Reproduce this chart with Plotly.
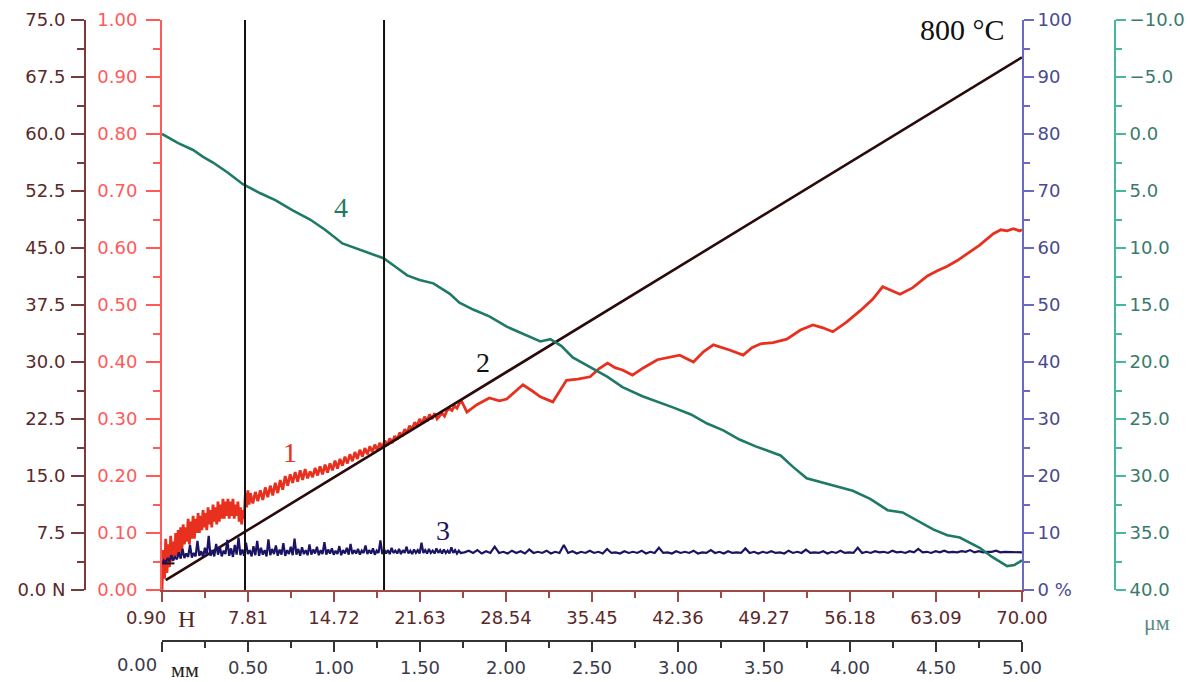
import numpy as np
import plotly.graph_objects as go

W, H = 1190, 682

# ---------------- data ----------------
load_ticks = [0.90, 7.81, 14.72, 21.63, 28.54, 35.45, 42.36, 49.27, 56.18, 63.09, 70.00]
dist_ticks = [0.0, 0.5, 1.0, 1.5, 2.0, 2.5, 3.0, 3.5, 4.0, 4.5, 5.0]
force_ticks = [0.0, 7.5, 15.0, 22.5, 30.0, 37.5, 45.0, 52.5, 60.0, 67.5, 75.0]
mu_ticks = [0.0, 0.1, 0.2, 0.3, 0.4, 0.5, 0.6, 0.7, 0.8, 0.9, 1.0]
ae_ticks = [0, 10, 20, 30, 40, 50, 60, 70, 80, 90, 100]
depth_ticks = [-10, -5, 0, 5, 10, 15, 20, 25, 30, 35, 40]

# curve 1 : friction coefficient (red); noisy start read every 0.1 N (0.9 .. 8.0)
friction_early = [0.00, 0.07, 0.02, 0.09, 0.03, 0.08, 0.04, 0.095, 0.05, 0.085,
                  0.055, 0.10, 0.06, 0.105, 0.065, 0.11, 0.07, 0.115, 0.08, 0.11,
                  0.085, 0.125, 0.08, 0.12, 0.09, 0.13, 0.09, 0.125, 0.10, 0.135,
                  0.10, 0.13, 0.105, 0.14, 0.11, 0.135, 0.105, 0.145, 0.115, 0.14,
                  0.11, 0.15, 0.12, 0.145, 0.115, 0.155, 0.12, 0.15, 0.125, 0.16,
                  0.125, 0.155, 0.13, 0.16, 0.125, 0.155, 0.13, 0.16, 0.125, 0.15,
                  0.13, 0.155, 0.12, 0.145, 0.115, 0.14, 0.125, 0.17, 0.145, 0.175,
                  0.15, 0.17]
# read every 0.2 N (8.2 .. 25.0)
friction_mid = [0.152, 0.172, 0.156, 0.175, 0.158, 0.18, 0.163, 0.183, 0.166, 0.188,
                0.17, 0.193, 0.176, 0.2, 0.183, 0.203, 0.188, 0.207, 0.19, 0.21,
                0.193, 0.212, 0.196, 0.208, 0.198, 0.214, 0.201, 0.217, 0.203, 0.22,
                0.206, 0.222, 0.21, 0.227, 0.213, 0.23, 0.218, 0.234, 0.222, 0.238,
                0.226, 0.242, 0.23, 0.246, 0.234, 0.249, 0.238, 0.252, 0.242, 0.255,
                0.245, 0.258, 0.249, 0.262, 0.254, 0.266, 0.258, 0.27, 0.264, 0.276,
                0.27, 0.282, 0.276, 0.288, 0.282, 0.294, 0.288, 0.3, 0.292, 0.304,
                0.296, 0.308, 0.3, 0.31, 0.3, 0.306, 0.31, 0.305, 0.315, 0.318,
                0.315, 0.323, 0.319, 0.328, 0.33]
friction_late_load = [25.4, 26.2, 27.2, 28.0, 28.6, 29.3, 29.9, 30.6, 31.3, 32.3, 32.9, 33.4,
                      34.3, 35.3, 36.0, 36.7, 37.3, 37.9, 38.7, 39.6, 40.7, 41.6, 42.5, 43.6,
                      44.4, 45.2, 46.0, 46.5, 47.6, 48.3, 49.0, 50.0, 51.1, 52.2, 53.2, 54.0,
                      54.8, 55.9, 57.0, 58.0, 58.8, 59.5, 60.2, 61.2, 62.4, 63.2, 64.0, 64.8,
                      65.6, 66.6, 67.7, 68.3, 68.8, 69.3, 69.8, 70.0]
friction_late = [0.312, 0.325, 0.337, 0.332, 0.335, 0.348, 0.36, 0.35, 0.339, 0.33, 0.35, 0.368,
                 0.37, 0.374, 0.388, 0.398, 0.39, 0.386, 0.377, 0.39, 0.404, 0.408, 0.412, 0.40,
                 0.418, 0.43, 0.425, 0.421, 0.412, 0.425, 0.432, 0.434, 0.44, 0.456, 0.465, 0.46,
                 0.453, 0.47, 0.49, 0.51, 0.532, 0.525, 0.519, 0.53, 0.551, 0.56, 0.568, 0.578,
                 0.59, 0.605, 0.625, 0.632, 0.63, 0.634, 0.63, 0.632]

# curve 2 : normal load line (black, on the N axis)
load_line_x = [1.2, 70.0]
load_line_y = [1.3, 70.1]
load_dash_x = [0.9, 1.9]
load_dash_y = [3.5, 3.5]

# curve 3 : acoustic emission (navy, %), read every 0.15 N (0.9 .. 24.9)
ae_early = [4.6, 5.2, 4.8, 5.6, 5.0, 6.1, 5.2, 5.8, 5.4, 6.6,
            5.5, 7.2, 5.6, 6.4, 5.8, 7.9, 5.7, 6.5, 5.9, 8.6,
            6.0, 6.8, 5.8, 7.4, 6.1, 9.5, 6.0, 7.0, 5.9, 8.1,
            6.2, 7.6, 5.9, 6.9, 6.3, 8.8, 6.0, 7.3, 5.8, 7.9,
            6.2, 9.2, 6.1, 7.1, 6.0, 8.3, 6.3, 7.0, 5.9, 7.7,
            6.1, 8.6, 6.0, 7.4, 6.2, 7.0, 5.9, 8.9, 6.1, 7.2,
            6.3, 7.8, 6.0, 7.1, 6.2, 8.2, 6.0, 7.0, 6.3, 7.6,
            6.1, 9.0, 6.2, 7.2, 6.0, 7.5, 6.3, 7.0, 6.1, 8.0,
            6.2, 7.1, 6.4, 7.6, 6.1, 7.0, 6.3, 8.4, 6.2, 7.1,
            6.4, 7.3, 6.2, 6.9, 6.3, 7.7, 6.1, 7.0, 6.4, 7.4,
            6.2, 8.1, 6.3, 7.0, 6.4, 7.2, 6.2, 6.9, 6.5, 7.8,
            6.3, 7.0, 6.4, 7.3, 6.2, 6.9, 6.5, 8.7, 6.3, 7.1,
            6.4, 7.0, 6.3, 7.4, 6.5, 6.9, 6.4, 7.2, 6.3, 7.0,
            6.5, 7.6, 6.4, 6.9, 6.3, 7.1, 6.5, 7.0, 6.4, 8.3,
            6.5, 7.0, 6.4, 7.2, 6.5, 6.9, 6.4, 7.3, 6.5, 7.0,
            6.4, 7.1, 6.5, 6.9, 6.4, 7.5, 6.5, 7.0, 6.4, 6.9,
            6.5]
# read every ~0.35 N (25.2 .. 70.0)
ae_late = [6.6, 6.9, 6.5, 7.0, 6.4, 6.8, 6.5, 7.6, 6.5, 6.7,
           6.4, 6.9, 6.5, 6.8, 6.4, 7.1, 6.5, 6.7, 6.5, 6.9,
           6.4, 6.7, 6.5, 7.9, 6.5, 6.8, 6.4, 6.7, 6.5, 6.9,
           6.5, 6.7, 6.4, 7.2, 6.5, 6.6, 6.4, 6.8, 6.5, 6.7,
           6.5, 6.9, 6.4, 6.7, 6.5, 7.4, 6.5, 6.6, 6.4, 6.8,
           6.5, 6.7, 6.5, 6.9, 6.4, 6.6, 6.5, 7.0, 6.5, 6.7,
           6.4, 6.8, 6.5, 6.6, 6.5, 7.3, 6.5, 6.7, 6.4, 6.7,
           6.5, 6.8, 6.5, 6.6, 6.4, 6.9, 6.5, 6.7, 6.5, 7.1,
           6.5, 6.6, 6.5, 6.8, 6.4, 6.7, 6.5, 6.9, 6.5, 6.6,
           6.5, 7.4, 6.5, 6.7, 6.5, 6.8, 6.6, 6.7, 6.5, 6.9,
           6.6, 6.7, 6.5, 6.8, 6.6, 7.2, 6.6, 6.7, 6.5, 6.8,
           6.6, 6.9, 6.6, 6.7, 6.6, 6.8, 6.7, 7.0, 6.6, 6.8,
           6.6, 6.7, 6.7, 6.9, 6.6, 6.7, 6.7, 6.6, 6.6, 6.6]

# curve 4 : penetration depth (teal, μm, reversed axis)
depth_load = [0.9, 2.2, 3.4, 4.2, 5.0, 6.2, 7.4, 8.8, 10.0, 11.4, 12.8, 14.0, 15.4, 16.4,
              17.4, 18.7, 19.6, 20.6, 21.6, 22.7, 24.0, 24.8, 25.9, 27.2, 28.6, 30.0,
              31.3, 32.1, 33.0, 33.9, 35.2, 36.7, 37.9, 39.5, 42.0, 43.4, 44.7, 46.0,
              47.3, 48.6, 50.6, 51.6, 52.7, 54.3, 56.4, 57.8, 59.2, 60.4, 61.6, 62.9,
              64.0, 65.0, 66.6, 67.6, 68.8, 69.4, 70.0]
depth_um = [0.0, 0.8, 1.4, 2.0, 2.5, 3.4, 4.4, 5.2, 5.8, 6.7, 7.5, 8.4, 9.6, 10.0,
            10.4, 10.9, 11.6, 12.4, 12.8, 13.1, 14.0, 14.8, 15.4, 16.0, 16.9, 17.6,
            18.2, 18.0, 18.6, 19.6, 20.4, 21.3, 22.2, 23.0, 24.0, 24.6, 25.4, 26.0,
            26.8, 27.4, 28.2, 29.2, 30.2, 30.7, 31.3, 32.0, 33.0, 33.2, 33.9, 34.7,
            35.2, 35.4, 36.3, 37.1, 37.9, 37.8, 37.4]

# positions of the two vertical marker lines (N)
marker_loads = [7.57, 18.74]

# ---------------- colours ----------------
C_RED = "#e8301e"
C_RED_AX = "#ff5a5a"
C_BROWN = "#7a3a3a"
C_BROWN_TXT = "#5a2a2a"
C_NAVY = "#1b1464"
C_BLUE_AX = "#6a6ac4"
C_BLUE_TXT = "#4a4a8e"
C_TEAL = "#1e7a66"
C_TEAL_AX = "#44b8a0"
C_TEAL_TXT = "#3a7a6c"
C_BLACK = "#2a0a0a"

# ---------------- geometry ----------------
PL, PR, PT, PB = 162, 1022, 20, 590
MT, MB = 20, 0
PH = H - MT - MB


def px_x(p):
    return p / W


def px_y(p):
    return (H - MB - p) / PH


fr_x = list(np.linspace(0.9, 8.0, len(friction_early))) + \
    list(np.linspace(8.2, 25.0, len(friction_mid))) + friction_late_load
fr_y = friction_early + friction_mid + friction_late
ae_x = list(np.linspace(0.9, 24.9, len(ae_early))) + list(np.linspace(25.2, 70.0, len(ae_late)))
ae_y = ae_early + ae_late

fig = go.Figure()
fig.add_trace(go.Scatter(x=fr_x, y=fr_y, mode="lines", line=dict(color=C_RED, width=2.8),
                         yaxis="y", xaxis="x"))
fig.add_trace(go.Scatter(x=depth_load, y=depth_um, mode="lines",
                         line=dict(color=C_TEAL, width=2.6), yaxis="y4", xaxis="x"))
fig.add_trace(go.Scatter(x=ae_x, y=ae_y, mode="lines", line=dict(color=C_NAVY, width=2.2),
                         yaxis="y3", xaxis="x"))
fig.add_trace(go.Scatter(x=load_line_x, y=load_line_y, mode="lines",
                         line=dict(color=C_BLACK, width=2.6), yaxis="y2", xaxis="x"))
fig.add_trace(go.Scatter(x=load_dash_x, y=load_dash_y, mode="lines",
                         line=dict(color=C_BLACK, width=2), yaxis="y2", xaxis="x"))
fig.add_trace(go.Scatter(x=[dist_ticks[0], dist_ticks[-1]], y=[None, None], mode="lines",
                         xaxis="x2", yaxis="y", hoverinfo="skip"))

TF = "DejaVu Sans"
TS = 18


def minor_between(t):
    return [(a + b) / 2 for a, b in zip(t[:-1], t[1:])]


common = dict(showgrid=False, zeroline=False, showline=True, linewidth=2, ticks="outside",
              tickwidth=2, automargin=False)

fig.update_layout(
    width=W, height=H, margin=dict(l=0, r=0, t=MT, b=MB, pad=0), autosize=False,
    paper_bgcolor="white", plot_bgcolor="white", showlegend=False,
    xaxis=dict(domain=[px_x(PL), px_x(PR)], range=[0.9, 70.0], anchor="y",
               tickmode="array", tickvals=load_ticks,
               ticktext=[""] + [f"{v:.2f}" for v in load_ticks[1:]],
               ticklen=10, tickcolor="#a04848", linecolor="#a04848",
               tickfont=dict(family=TF, size=TS, color=C_BROWN_TXT),
               minor=dict(tickmode="array", tickvals=minor_between(load_ticks), ticklen=6,
                          ticks="outside", tickcolor="#a04848", tickwidth=2),
               **common),
    xaxis2=dict(overlaying="x", anchor="free", position=px_y(641), side="bottom",
                range=[0, 5], tickmode="array", tickvals=dist_ticks,
                ticktext=[""] + [f"{v:.2f}" for v in dist_ticks[1:]],
                ticklen=10, tickcolor="#333333", linecolor="#333333",
                tickfont=dict(family=TF, size=TS, color="#3a3a4a"),
                minor=dict(tickmode="array", tickvals=minor_between(dist_ticks), ticklen=6,
                           ticks="outside", tickcolor="#333333", tickwidth=2),
                **common),
    yaxis=dict(domain=[px_y(PB), 1], range=[0, 1], anchor="x", side="left",
               tickmode="array", tickvals=mu_ticks, ticktext=[f"{v:.2f}" for v in mu_ticks],
               ticklen=14, tickcolor=C_RED_AX, linecolor=C_RED_AX, ticklabelstandoff=5,
               tickfont=dict(family=TF, size=TS, color=C_RED_AX),
               minor=dict(tickmode="array", tickvals=minor_between(mu_ticks), ticklen=7,
                          ticks="outside", tickcolor=C_RED_AX, tickwidth=2),
               **common),
    yaxis2=dict(overlaying="y", anchor="free", position=px_x(85), side="left",
                range=[0, 75], tickmode="array", tickvals=force_ticks,
                ticktext=["0.0 N"] + [f"{v:.1f}" for v in force_ticks[1:]],
                ticklen=13, tickcolor=C_BROWN, linecolor=C_BROWN, ticklabelstandoff=2,
                tickfont=dict(family=TF, size=TS, color=C_BROWN_TXT),
                minor=dict(tickmode="array", tickvals=minor_between(force_ticks), ticklen=7,
                           ticks="outside", tickcolor=C_BROWN, tickwidth=2),
                **common),
    yaxis3=dict(overlaying="y", anchor="x", side="right", range=[0, 100],
                tickmode="array", tickvals=ae_ticks,
                ticktext=["0 %"] + [str(v) for v in ae_ticks[1:]],
                ticklen=10, tickcolor=C_BLUE_AX, linecolor=C_BLUE_AX,
                tickfont=dict(family=TF, size=TS, color=C_BLUE_TXT),
                minor=dict(tickmode="array", tickvals=minor_between(ae_ticks), ticklen=6,
                           ticks="outside", tickcolor=C_BLUE_AX, tickwidth=2),
                **common),
    yaxis4=dict(overlaying="y", anchor="free", position=px_x(1115), side="right",
                range=[40, -10], tickmode="array", tickvals=depth_ticks,
                ticktext=[("\u2212" if v < 0 else "") + f"{abs(v):.1f}" for v in depth_ticks],
                ticklen=10, tickcolor=C_TEAL_AX, linecolor=C_TEAL_AX,
                tickfont=dict(family=TF, size=TS, color=C_TEAL_TXT),
                minor=dict(tickmode="array", tickvals=minor_between(depth_ticks), ticklen=6,
                           ticks="outside", tickcolor=C_TEAL_AX, tickwidth=2),
                **common),
)

for m in marker_loads:
    fig.add_shape(type="line", xref="x", yref="y domain", x0=m, x1=m, y0=0, y1=1,
                  line=dict(color="#111111", width=2))

SERIF = "Liberation Serif"
annots = [
    ("1", 290, 452, C_RED, 28),
    ("2", 483, 362, "#111111", 28),
    ("3", 443, 530, C_NAVY, 28),
    ("4", 341, 208, C_TEAL, 28),
    ("800 °C", 962, 30, "#111111", 30),
    ("Н", 186, 619, "#4a2a2a", 24),
    ("мм", 185, 669, "#222222", 22),
    ("μм", 1157, 622, "#5a8a86", 22),
]
for txt, x, y, col, sz in annots:
    fig.add_annotation(text=txt, x=px_x(x), y=px_y(y), xref="paper", yref="paper",
                       showarrow=False, font=dict(family=SERIF, size=sz, color=col),
                       xanchor="center", yanchor="middle")

# first tick labels placed left of their ticks, as in the original
fig.add_annotation(text=f"{load_ticks[0]:.2f}", x=px_x(168), y=px_y(617), xref="paper",
                   yref="paper", showarrow=False, xanchor="right", yanchor="middle",
                   font=dict(family=TF, size=TS, color=C_BROWN_TXT))
fig.add_annotation(text=f"{dist_ticks[0]:.2f}", x=px_x(159), y=px_y(664), xref="paper",
                   yref="paper", showarrow=False, xanchor="right", yanchor="middle",
                   font=dict(family=TF, size=TS, color="#3a3a4a"))

fig.write_html("out.html")
